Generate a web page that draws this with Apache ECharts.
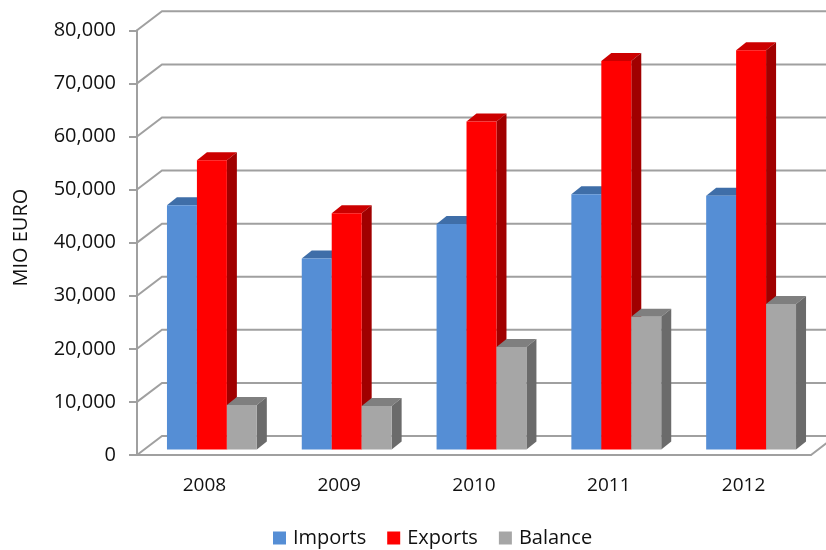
<!DOCTYPE html>
<html><head><meta charset="utf-8">
<style>html,body{margin:0;padding:0;background:#fff}#c{width:826px;height:550px}</style>
<script src="https://cdn.jsdelivr.net/npm/echarts@6/dist/echarts.min.js"></script>
</head><body><div id="c"></div>
<script>
const years = ['2008','2009','2010','2011','2012'];
const imports = [46000,36000,42500,48100,47800];
const exportsV = [54500,44500,61800,73200,75200];
const balance = [8400,8200,19300,25000,27400];
const yTicks = [0,10000,20000,30000,40000,50000,60000,70000,80000];

const FONT = '"Open Sans"';
const GRID = '#a0a0a0';
const WALL_DX = 25, WALL_DY = 19;      // depth of the chart box
const BAR_IN_X = 7.5, BAR_IN_Y = 5.5;  // bar front plane inset
const BAR_DX = 10, BAR_DY = 8;         // depth of each bar
const BAR_W_RATIO = 2/9;

const chart = echarts.init(document.getElementById('c'), null, {renderer:'canvas'});

function gridRender(params, api){
  const v = api.value(0);
  const p = api.coord([0, v]);
  const band = api.size([1,0])[0];
  const x0 = p[0] - band/2, y = p[1];
  const x1 = x0 + band*years.length;
  const pts = [[x0,y],[x0+WALL_DX,y-WALL_DY],[x1+WALL_DX,y-WALL_DY]];
  if (v === 0) pts.push([x1,y]);
  return {type:'polyline', shape:{points:pts}, style:{fill:null, stroke:GRID, lineWidth:2}, silent:true};
}
function barRender(idx, front, top, side){
  return function(params, api){
    const cat = api.value(0), val = api.value(1);
    const band = api.size([1,0])[0], w = band*BAR_W_RATIO;
    const t = api.coord([cat,val]), b = api.coord([cat,0]);
    const x = t[0] + BAR_IN_X + (idx-1.5)*w;
    const yt = t[1] - BAR_IN_Y, yb = b[1] - BAR_IN_Y;
    return {type:'group', children:[
      {type:'polygon', shape:{points:[[x,yt],[x+BAR_DX,yt-BAR_DY],[x+w+BAR_DX,yt-BAR_DY],[x+w,yt]]}, style:{fill:top}},
      {type:'polygon', shape:{points:[[x+w,yt],[x+w+BAR_DX,yt-BAR_DY],[x+w+BAR_DX,yb-BAR_DY],[x+w,yb]]}, style:{fill:side}},
      {type:'rect', shape:{x:x,y:yt,width:w,height:yb-yt}, style:{fill:front}}
    ]};
  };
}
function barSeries(name, idx, values, front, top, side){
  return {type:'custom', name, clip:false, z:3,
    data: values.map((v,i)=>[i,v]), encode:{x:0,y:1},
    itemStyle:{color:front},
    renderItem: barRender(idx, front, top, side)};
}
chart.setOption({
  animation:false,
  backgroundColor:'#fff',
  textStyle:{fontFamily:FONT},
  grid:{left:137,right:15,top:30.3,bottom:95,containLabel:false},
  legend:{
    data:['Imports','Exports','Balance'], left:273, top:528, itemWidth:13, itemHeight:13, itemGap:21,
    icon:'rect', padding:0,
    textStyle:{fontFamily:FONT,fontSize:20,color:'#111',padding:[0,0,0,2]}
  },
  xAxis:{type:'category',data:years,boundaryGap:true,
    axisLine:{lineStyle:{color:GRID,width:2}},
    axisTick:{length:6,alignWithLabel:false,lineStyle:{color:GRID,width:2}},
    axisLabel:{fontFamily:FONT,fontSize:19,color:'#111',margin:21}},
  yAxis:{type:'value',min:0,max:80000,interval:10000,
    name:'MIO EURO',nameLocation:'middle',nameGap:106,
    nameTextStyle:{fontFamily:FONT,fontSize:20,color:'#111',padding:[0,0,0,10]},
    axisLine:{show:true,lineStyle:{color:GRID,width:2}},
    axisTick:{show:true,length:8,lineStyle:{color:GRID,width:2}},
    axisLabel:{fontFamily:FONT,fontSize:20,color:'#111',margin:21,padding:[5,0,0,0],
      formatter:v=>v.toLocaleString('en-US')},
    splitLine:{show:false}},
  series:[
    {type:'custom',name:'grid',clip:false,z:1,silent:true,
      data:yTicks.map(v=>[v]),encode:{y:0},renderItem:gridRender},
    barSeries('Imports',0,imports,'#558ed5','#3f6ea8','#3a6499'),
    barSeries('Exports',1,exportsV,'#ff0000','#cc0000','#a00000'),
    barSeries('Balance',2,balance,'#a6a6a6','#7f7f7f','#6b6b6b')
  ]
});
</script></body></html>
